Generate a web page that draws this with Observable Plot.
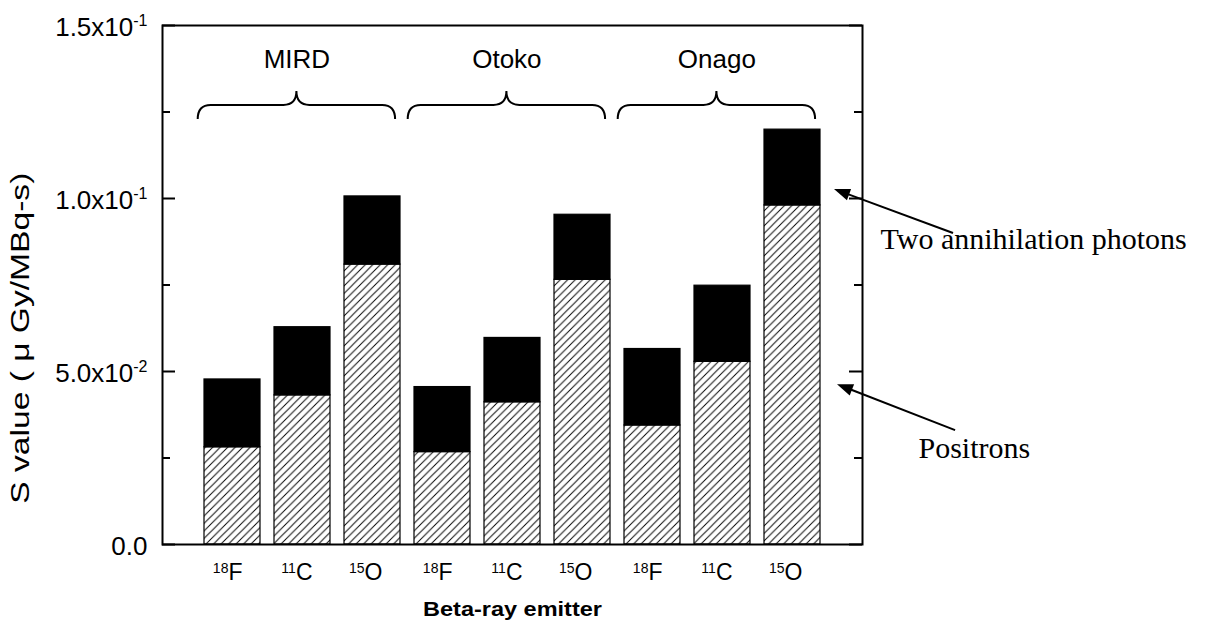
<!DOCTYPE html>
<html><head><meta charset="utf-8">
<script src="https://cdn.jsdelivr.net/npm/d3@7"></script>
<script src="https://cdn.jsdelivr.net/npm/@observablehq/plot@0.6"></script>
<style>body{margin:0;background:#fff}</style>
</head><body><div id="chart"></div>
<script>
// ---- data ----
const phantoms = ["MIRD", "Otoko", "Onago"];
const massNumbers = ["18", "11", "15"];
const elements = ["F", "C", "O"];
const positrons = [0.0281, 0.0431, 0.0809, 0.0267, 0.0411, 0.0765, 0.0344, 0.0528, 0.0980];
const photons   = [0.0196, 0.0197, 0.0197, 0.0188, 0.0186, 0.0188, 0.0221, 0.0220, 0.0219];
const yMajorTicks = [0, 0.05, 0.1, 0.15];
const yMinorTicks = [0.025, 0.075, 0.125];
const yTickMantissa = ["0.0", "5.0x10", "1.0x10", "1.5x10"];
const yTickExponent = ["", "-2", "-1", "-1"];
const annotationTexts = ["Two annihilation photons", "Positrons"];
const xTitle = "Beta-ray emitter";
const yTitle = "S value ( \u03bc Gy/MBq-s)";

// ---- derived tables ----
const bars = positrons.map((p, i) => ({
  pos: i + 1,
  phantom: phantoms[Math.floor(i / 3)],
  mass: massNumbers[i % 3],
  element: elements[i % 3],
  positrons: p,
  photons: photons[i],
  total: p + photons[i]
}));
const groups = phantoms.map((name, g) => ({name, center: 3 * g + 2 - 0.08}));
const yTicks = yMajorTicks.map((v, i) => ({v, mant: yTickMantissa[i], exp: yTickExponent[i]}));

// annotation geometry (data units)
const braceHalf = 1.41, braceEndY = 0.1228, braceLineY = 0.1269, braceTipY = 0.1309, groupLabelY = 0.1376;
const annotations = [
  {text: annotationTexts[0], tx: 10.257, ty: 0.0853, x1: 11.3, y1: 0.0899, x2: 9.6, y2: 0.1026},
  {text: annotationTexts[1], tx: 10.8, ty: 0.0251, x1: 11.33, y1: 0.0329, x2: 9.643, y2: 0.0462}
];

const W = 1207, H = 624, mL = 162, mR = 345, mT = 25, mB = 80;
const frameW = W - mL - mR;
const ns = "http://www.w3.org/2000/svg";

function shapes(index, scales) {
  const {x, y} = scales;
  const g = document.createElementNS(ns, "g");
  g.setAttribute("aria-label", "braces-arrows");
  for (const b of groups) {
    const x0 = x(b.center - braceHalf), x1 = x(b.center + braceHalf), xt = x(b.center);
    const yE = y(braceEndY), yL = y(braceLineY), yT = y(braceTipY);
    const r = 13;
    const p = document.createElementNS(ns, "path");
    p.setAttribute("d", `M${x0},${yE}Q${x0},${yL} ${x0 + r},${yL}L${xt - r},${yL}Q${xt},${yL} ${xt},${yT}Q${xt},${yL} ${xt + r},${yL}L${x1 - r},${yL}Q${x1},${yL} ${x1},${yE}`);
    p.setAttribute("fill", "none");
    p.setAttribute("stroke", "black");
    p.setAttribute("stroke-width", "2");
    g.appendChild(p);
  }
  for (const a of annotations) {
    const sx = x(a.x1), sy = y(a.y1), tx = x(a.x2), ty = y(a.y2);
    const dx = sx - tx, dy = sy - ty, len = Math.hypot(dx, dy);
    const ux = dx / len, uy = dy / len;
    const L = 16, hw = 6;
    const bx = tx + ux * L, by = ty + uy * L;
    const line = document.createElementNS(ns, "line");
    line.setAttribute("x1", sx); line.setAttribute("y1", sy);
    line.setAttribute("x2", bx - ux * 2); line.setAttribute("y2", by - uy * 2);
    line.setAttribute("stroke", "black"); line.setAttribute("stroke-width", "2");
    g.appendChild(line);
    const head = document.createElementNS(ns, "path");
    head.setAttribute("d", `M${tx},${ty}L${bx - uy * hw},${by + ux * hw}L${bx + uy * hw},${by - ux * hw}Z`);
    head.setAttribute("fill", "black");
    g.appendChild(head);
  }
  return g;
}

const chart = Plot.plot({
  width: W, height: H,
  marginLeft: mL, marginRight: mR, marginTop: mT, marginBottom: mB,
  style: {fontFamily: "'Liberation Sans', Arial, sans-serif", color: "black", background: "white", overflow: "visible"},
  x: {domain: [0, 10], axis: null},
  y: {domain: [0, 0.15], axis: null},
  marks: [
    Plot.rectY(bars, {x1: d => d.pos - 0.4, x2: d => d.pos + 0.4, y1: 0, y2: "positrons", fill: "url(#hatch)", stroke: "black", strokeWidth: 1.2}),
    Plot.rectY(bars, {x1: d => d.pos - 0.4, x2: d => d.pos + 0.4, y1: "positrons", y2: "total", fill: "black", stroke: "black", strokeWidth: 1.2}),
    Plot.tickY(yMajorTicks, {y: d => d, insetRight: frameW - 13, stroke: "black", strokeWidth: 2}),
    Plot.tickY(yMinorTicks, {y: d => d, insetRight: frameW - 8, stroke: "black", strokeWidth: 2}),
    Plot.tickY(yMajorTicks, {y: d => d, insetLeft: frameW - 13, stroke: "black", strokeWidth: 2}),
    Plot.tickY(yMinorTicks, {y: d => d, insetLeft: frameW - 8, stroke: "black", strokeWidth: 2}),
    Plot.frame({stroke: "black", strokeWidth: 2}),
    Plot.text(yTicks, {y: "v", text: "mant", frameAnchor: "left", dx: -15, dy: 10, textAnchor: "end", lineAnchor: "bottom", fontSize: 26}),
    Plot.text(bars, {x: "pos", text: "element", frameAnchor: "bottom", dx: 10, dy: 35, textAnchor: "end", lineAnchor: "bottom", fontSize: 23}),
    Plot.text([xTitle], {x: d3.mean(bars, d => d.pos), text: d => d, frameAnchor: "bottom", dy: 71, lineAnchor: "bottom", fontSize: 21, fontWeight: "bold"}),
    Plot.text([yTitle], {y: 0.0118, text: d => d, frameAnchor: "left", dx: -134, rotate: -90, textAnchor: "start", lineAnchor: "bottom", fontSize: 25}),
    Plot.text(groups, {x: "center", y: groupLabelY, text: "name", lineAnchor: "bottom", fontSize: 26}),
    Plot.text(annotations, {x: "tx", y: "ty", text: "text", textAnchor: "start", lineAnchor: "bottom", fontSize: 30, fontFamily: "'Liberation Serif', 'Times New Roman', serif"}),
    shapes
  ]
});

// hatch pattern
const defs = document.createElementNS(ns, "defs");
defs.innerHTML = `<pattern id="hatch" patternUnits="userSpaceOnUse" width="7.5" height="7.5">
  <rect width="7.5" height="7.5" fill="white"/>
  <path d="M-1,1 l2,-2 M0,7.5 l7.5,-7.5 M6.5,8.5 l2,-2" stroke="black" stroke-width="0.95"/>
</pattern>`;
chart.insertBefore(defs, chart.firstChild);

const allTexts = Array.from(chart.querySelectorAll("text"));
// superscripts on y tick labels
yTicks.forEach(tk => {
  if (!tk.exp) return;
  const t = allTexts.find(el => el.textContent === tk.mant && !el.dataset.done);
  if (!t) return;
  t.dataset.done = "1";
  const s = document.createElementNS(ns, "tspan");
  s.setAttribute("font-size", "16");
  s.setAttribute("dy", "-10");
  s.textContent = tk.exp;
  t.appendChild(s);
});
// mass-number superscripts on x tick labels (in bar order)
const xLabelTexts = allTexts.filter(el => elements.includes(el.textContent));
xLabelTexts.forEach((t, i) => {
  const el = t.textContent;
  t.textContent = "";
  const s = document.createElementNS(ns, "tspan");
  s.setAttribute("font-size", "14");
  s.setAttribute("dy", "-7");
  s.textContent = bars[i].mass;
  const m = document.createElementNS(ns, "tspan");
  m.setAttribute("dy", "7");
  m.textContent = el;
  t.appendChild(s); t.appendChild(m);
});
// stretched axis titles as in the original
const yt = allTexts.find(el => el.textContent === yTitle);
if (yt) { yt.setAttribute("textLength", "331"); yt.setAttribute("lengthAdjust", "spacingAndGlyphs"); }
const xt = allTexts.find(el => el.textContent === xTitle);
if (xt) { xt.setAttribute("textLength", "179"); xt.setAttribute("lengthAdjust", "spacingAndGlyphs"); }

document.getElementById("chart").appendChild(chart);
</script>
</body></html>
